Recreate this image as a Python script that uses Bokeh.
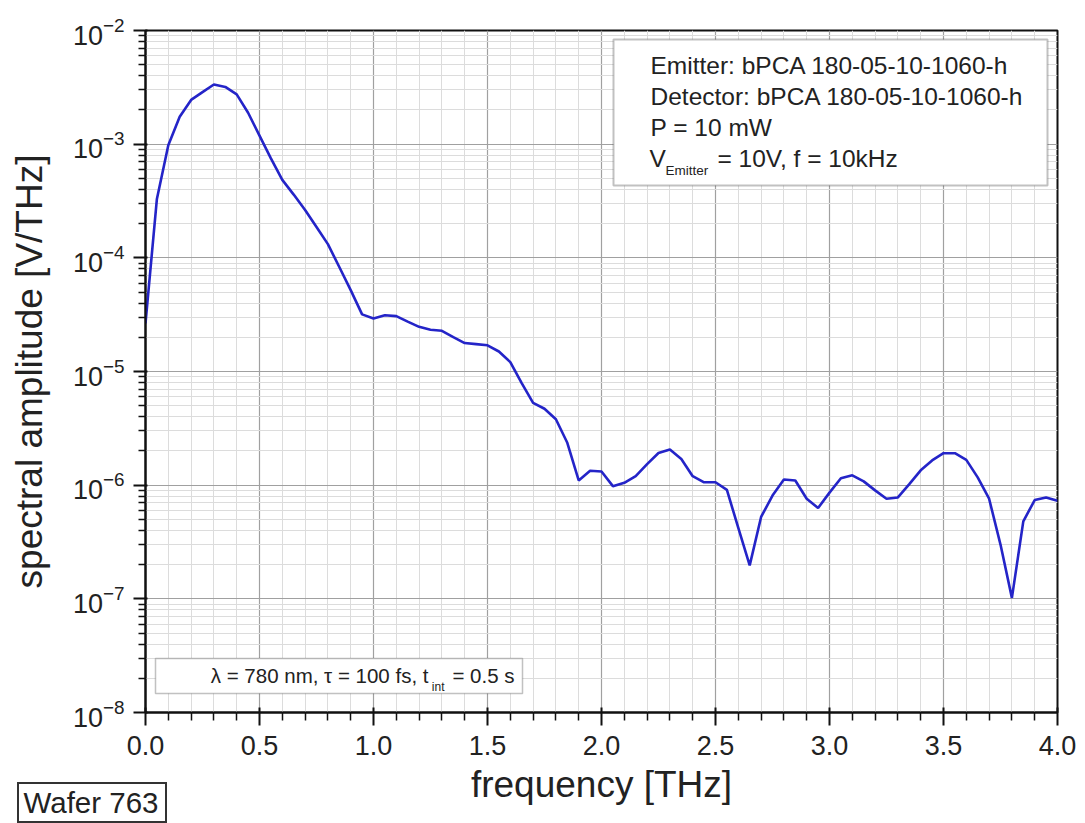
from bokeh.plotting import figure
from bokeh.layouts import column
from bokeh.models import FixedTicker, BoxAnnotation, Label, Range1d
from bokeh.core.properties import value
from bokeh.embed import file_html
from bokeh.resources import INLINE

# ---------------- data ----------------
freq = [0.00, 0.05, 0.10, 0.15, 0.20, 0.25, 0.30, 0.35, 0.40, 0.45,
        0.50, 0.55, 0.60, 0.65, 0.70, 0.75, 0.80, 0.85, 0.90, 0.95,
        1.00, 1.05, 1.10, 1.15, 1.20, 1.25, 1.30, 1.35, 1.40, 1.45,
        1.50, 1.55, 1.60, 1.65, 1.70, 1.75, 1.80, 1.85, 1.90, 1.95,
        2.00, 2.05, 2.10, 2.15, 2.20, 2.25, 2.30, 2.35, 2.40, 2.45,
        2.50, 2.55, 2.60, 2.65, 2.70, 2.75, 2.80, 2.85, 2.90, 2.95,
        3.00, 3.05, 3.10, 3.15, 3.20, 3.25, 3.30, 3.35, 3.40, 3.45,
        3.50, 3.55, 3.60, 3.65, 3.70, 3.75, 3.80, 3.85, 3.90, 3.95, 4.00]
amplitude = [2.65e-5, 3.3e-4, 9.8e-4, 1.74e-3, 2.45e-3, 2.87e-3, 3.35e-3, 3.19e-3, 2.74e-3, 1.89e-3,
             1.19e-3, 7.5e-4, 4.85e-4, 3.6e-4, 2.63e-4, 1.87e-4, 1.32e-4, 8.3e-5, 5.2e-5, 3.18e-5,
             2.93e-5, 3.13e-5, 3.07e-5, 2.75e-5, 2.47e-5, 2.33e-5, 2.28e-5, 2.01e-5, 1.78e-5, 1.74e-5,
             1.70e-5, 1.50e-5, 1.21e-5, 7.9e-6, 5.3e-6, 4.7e-6, 3.8e-6, 2.36e-6, 1.10e-6, 1.34e-6,
             1.32e-6, 9.8e-7, 1.05e-6, 1.20e-6, 1.53e-6, 1.92e-6, 2.06e-6, 1.70e-6, 1.20e-6, 1.06e-6,
             1.06e-6, 9.1e-7, 4.2e-7, 1.97e-7, 5.25e-7, 8.1e-7, 1.12e-6, 1.10e-6, 7.6e-7, 6.3e-7,
             8.6e-7, 1.15e-6, 1.22e-6, 1.08e-6, 9.0e-7, 7.6e-7, 7.8e-7, 1.02e-6, 1.35e-6, 1.65e-6,
             1.91e-6, 1.91e-6, 1.67e-6, 1.17e-6, 7.6e-7, 3.0e-7, 1.02e-7, 4.8e-7, 7.4e-7, 7.8e-7, 7.3e-7]

x_major = [0.0, 0.5, 1.0, 1.5, 2.0, 2.5, 3.0, 3.5, 4.0]
x_labels = {v: f"{v:.1f}" for v in x_major}
x_minor = [round(i * 0.1, 1) for i in range(41) if i % 5 != 0]
y_major = [1e-8, 1e-7, 1e-6, 1e-5, 1e-4, 1e-3, 1e-2]
y_minor = [m * 10.0 ** e for e in range(-8, -2) for m in range(2, 10)]

info_lines = ["Emitter: bPCA 180-05-10-1060-h",
              "Detector: bPCA 180-05-10-1060-h",
              "P = 10 mW"]
wafer_text = ["Wafer 763"]
FONT = "Liberation Sans"

# ---------------- main figure ----------------
p = figure(width=1077, height=815, frame_width=912, frame_height=682,
           y_axis_type="log", x_range=Range1d(0, 4), y_range=Range1d(1e-8, 1e-2),
           output_backend="svg", toolbar_location=None,
           min_border_left=145, min_border_right=20, min_border_top=30, min_border_bottom=103)
p.frame_align = False
p.background_fill_color = "white"
p.border_fill_color = None
p.outline_line_color = "#111111"
p.outline_line_width = 2

p.xaxis.ticker = FixedTicker(ticks=x_major, minor_ticks=x_minor)
p.yaxis.ticker = FixedTicker(ticks=y_major, minor_ticks=y_minor)
p.xaxis.major_label_overrides = x_labels

for ax in (p.xaxis, p.yaxis):
    ax.axis_line_width = 2
    ax.axis_line_color = "#111111"
    ax.major_tick_line_width = 2
    ax.major_tick_line_color = "#111111"
    ax.minor_tick_line_width = 1.5
    ax.minor_tick_line_color = "#111111"
    ax.major_label_text_font = FONT
    ax.major_label_text_font_size = "27px"
    ax.major_label_text_color = "#222222"
    ax.axis_label_text_font = FONT
    ax.axis_label_text_font_size = "37px"
    ax.axis_label_text_font_style = "normal"
    ax.axis_label_text_color = "#222222"

p.xaxis.major_tick_in = 5
p.xaxis.major_tick_out = 13
p.xaxis.minor_tick_in = 0
p.xaxis.minor_tick_out = 8
p.xaxis.major_label_standoff = 10
p.xaxis.axis_label = "frequency [THz]"
p.xaxis.axis_label_standoff = 6

p.yaxis.major_tick_in = 2
p.yaxis.major_tick_out = 12
p.yaxis.minor_tick_in = 0
p.yaxis.minor_tick_out = 7
p.yaxis.major_label_standoff = 9
p.yaxis.axis_label = "spectral amplitude [V/THz]"
p.yaxis.axis_label_standoff = 20

p.xgrid.ticker = p.xaxis[0].ticker
p.ygrid.ticker = p.yaxis[0].ticker
for g in (p.xgrid, p.ygrid):
    g.grid_line_color = "#a0a0a0"
    g.grid_line_width = 1.2
    g.minor_grid_line_color = "#dcdcdc"
    g.minor_grid_line_width = 1

p.line(freq, amplitude, line_color="#2424c8", line_width=2.6)

# ---------------- annotations (placed by page pixel position) ----------------
X0, X1 = 145, 1057     # page x of 0 and 4 THz
Y0, Y1 = 30, 712       # page y of 1e-2 and 1e-8
def dx(px):
    return (px - X0) / (X1 - X0) * 4.0
def dy(py):
    return 10 ** (-2 - (py - Y0) / (Y1 - Y0) * 6)

p.add_layout(BoxAnnotation(left=dx(613), right=dx(1047), top=dy(39), bottom=dy(185),
                           fill_color="white", fill_alpha=1, line_color="#333333", line_width=2))
p.add_layout(BoxAnnotation(left=dx(155), right=dx(522), top=dy(658), bottom=dy(693),
                           fill_color="white", fill_alpha=1, line_color="#333333", line_width=1.5))

for i, t in enumerate(info_lines):
    p.add_layout(Label(x=dx(650), y=dy(65 + 31 * i), text=t, text_font=FONT,
                       text_font_size="24.5px", text_color="#222222",
                       text_baseline="middle", text_align="left"))
p.add_layout(Label(x=dx(649), y=dy(158), text="V", text_font=FONT, text_font_size="24.5px",
                   text_color="#222222", text_baseline="middle", text_align="left"))
p.add_layout(Label(x=dx(665), y=dy(170), text="Emitter", text_font=FONT, text_font_size="13.5px",
                   text_color="#222222", text_baseline="middle", text_align="left"))
p.add_layout(Label(x=dx(717), y=dy(158), text="= 10V, f = 10kHz", text_font=FONT,
                   text_font_size="24.5px", text_color="#222222",
                   text_baseline="middle", text_align="left"))

p.add_layout(Label(x=dx(514), y=dy(675), text="= 0.5 s", text_font=FONT, text_font_size="20.5px",
                   text_color="#222222", text_baseline="middle", text_align="right"))
p.add_layout(Label(x=dx(444), y=dy(686), text="int", text_font=FONT, text_font_size="12px",
                   text_color="#222222", text_baseline="middle", text_align="right"))
p.add_layout(Label(x=dx(428), y=dy(675), text="λ = 780 nm, τ = 100 fs, t", text_font=FONT,
                   text_font_size="20.5px", text_color="#222222",
                   text_baseline="middle", text_align="right"))

# ---------------- "Wafer 763" box, below-left, overlapping the bottom margin ----------------
w = figure(width=150, height=41, frame_width=150, frame_height=41,
           x_range=Range1d(0, 150), y_range=Range1d(0, 41),
           output_backend="svg", toolbar_location=None,
           x_axis_location=None, y_axis_location=None,
           min_border=0, min_border_left=0, min_border_right=0,
           min_border_top=0, min_border_bottom=0,
           margin=(-33, 0, 0, 17))
w.frame_align = False
w.xgrid.visible = False
w.ygrid.visible = False
w.background_fill_color = "white"
w.border_fill_color = "white"
w.outline_line_color = "#333333"
w.outline_line_width = 3
w.text(x=[6], y=[21], text=wafer_text, text_font=value(FONT), text_font_size="29.5px",
       text_color="#222222", text_baseline="middle", text_align="left")

layout = column(p, w, spacing=0)
open("out.html", "w").write(file_html(layout, INLINE))
